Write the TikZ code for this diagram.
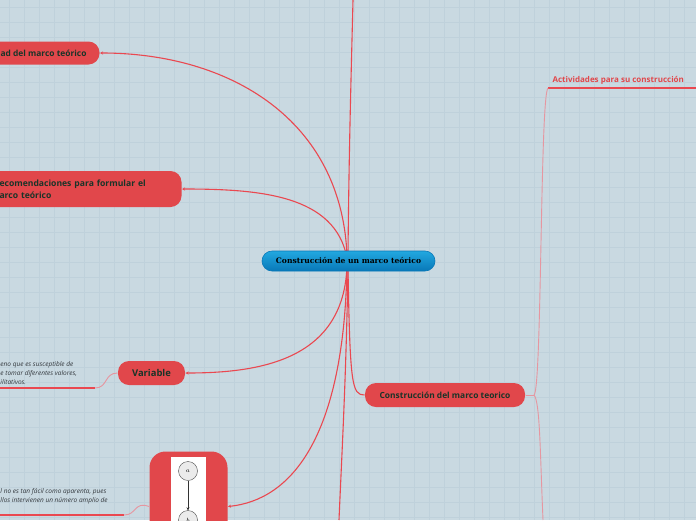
\documentclass[tikz,border=0pt]{standalone}
\usepackage{fontspec}
\setmainfont{Open Sans}
\newfontfamily\rootfont{DejaVu Serif}
\usetikzlibrary{arrows.meta}

\definecolor{paper}{RGB}{201,217,225}
\definecolor{gridline}{RGB}{191,209,219}
\definecolor{mapred}{RGB}{225,71,75}
\definecolor{linkred}{RGB}{234,72,80}
\definecolor{linkpink}{RGB}{230,150,160}
\definecolor{ink}{RGB}{26,52,40}
\definecolor{notegray}{RGB}{50,55,60}
\definecolor{bluetop}{RGB}{34,168,224}
\definecolor{bluebot}{RGB}{8,120,184}

\begin{document}
\begin{tikzpicture}[x=1pt, y=-1pt, line width=1pt,
  topic/.style={fill=mapred, rounded corners=11pt, text=ink, inner xsep=14pt, inner ysep=0pt,
    font=\fontsize{9}{12}\selectfont\bfseries},
  rootbox/.style={top color=bluetop, bottom color=bluebot, draw=bluebot, line width=0.6pt,
    rounded corners=10pt, minimum width=173pt, minimum height=20pt, inner sep=0pt,
    font=\rootfont\fontsize{7.6}{9}\selectfont\bfseries},
  note/.style={text=notegray, align=left, inner sep=0pt, font=\fontsize{6.5}{9}\selectfont\itshape},
  subtopic/.style={text=mapred, inner sep=1pt, font=\fontsize{8}{9}\selectfont\bfseries},
  dotnode/.style={circle, draw=black!70, fill=black!8, line width=0.4pt, minimum width=19pt,
    inner sep=0pt, font=\fontsize{6}{7}\selectfont},
  link/.style={draw=linkred, line width=1.1pt},
  twig/.style={draw=linkpink, line width=0.9pt},
  tip/.style={-{Stealth[length=3pt, width=3pt]}}]

% Page and its grid
\useasboundingbox (0,0) rectangle (696,520);
\clip (0,0) rectangle (696,520);
\fill[paper] (0,0) rectangle (696,520);
\foreach \x in {9,24,...,696} {
  \draw[gridline, line width=0.5pt] (\x,0) -- (\x,520);
}
\foreach \y in {7,22,...,520} {
  \draw[gridline, line width=0.5pt] (0,\y) -- (696,\y);
}

% Topics round the root
\node[topic, anchor=east, minimum height=23pt, inner xsep=13pt,
  font=\fontsize{8.4}{12}\selectfont\bfseries] (utilidad) at (100,53) {ad del marco teórico};
\node[topic, anchor=east, align=left, text width=168pt, minimum height=36pt,
  font=\fontsize{8.6}{12}\selectfont\bfseries] (recomendaciones) at (182,189)
  {ecomendaciones para formular el\\arco teórico};
\node[topic, minimum width=67pt, minimum height=24pt, inner xsep=0pt,
  font=\fontsize{9.4}{12}\selectfont\bfseries] (variable) at (151.5,373) {Variable};
\node[topic, anchor=north west, minimum width=78pt, minimum height=100pt, inner sep=0pt,
  rounded corners=16pt] (imagen) at (149,451) {};
\node[topic, minimum width=160pt, minimum height=24pt, inner xsep=0pt,
  font=\fontsize{8.4}{12}\selectfont\bfseries] (construccion) at (445,395) {Construcción del marco teorico};

% The picture inside the image topic
\fill[white] (171,457) rectangle (206,530);
\node[dotnode, minimum height=17pt] (a) at (188,471) {$a$};
\node[dotnode, minimum height=17pt] (b) at (188,520) {$b$};
\draw[tip, line width=0.5pt, black!80] (a) -- (b);

% Notes on the left, cut by the page edge
\node[note, anchor=north west] (variablenote) at (0,361)
  {eno que es susceptible de\\e tomar diferentes valores,\\ilitativos.};
\node[note, anchor=north west] (imagennote) at (0,488)
  {l no es tan fácil como aparenta, pues\\llos intervienen un número amplio de};
\coordinate (variableline) at (0,388);
\coordinate (imagenline) at (0,515);
\draw[link] (variableline) -- (95,388);
\draw[twig] (95,388) .. controls (108,388) and (104,373) .. (variable.west);
\draw[link] (imagenline) -- (124,515);
\draw[twig] (124,515) .. controls (137,515) and (134,501) .. ([yshift=-5pt]imagen.west);

% Branches of the root, drawn under it
\coordinate (top) at (353,0);
\coordinate (bottom) at (339,520);
\draw[link] (348,254) .. controls (349,150) and (351,80) .. (top);
\draw[link] (348,268) .. controls (346,380) and (342,450) .. (bottom);
\draw[link, tip] (347,256) .. controls (342,120) and (230,53) .. (utilidad.east);
\draw[link, tip] (347,258) .. controls (335,195) and (260,189) .. (recomendaciones.east);
\draw[link, tip] (347,264) .. controls (345,360) and (260,373) .. (variable.east);
\draw[link, tip] (347,266) .. controls (344,440) and (290,500) .. ([yshift=-5pt]imagen.east);
\draw[link] (348,268) .. controls (350,385) and (352,395) .. (construccion.west);

% Root
\node[rootbox] (root) at (348.5,261) {Construcción de un marco teórico};

% Right hand side
\node[subtopic, anchor=south west] (actividades) at (551,86) {Actividades para su construcción};
\coordinate (actividadesend) at (696,88);
\coordinate (lowend) at (543,520);
\draw[link] (548,88) -- (actividadesend);
\draw[twig] (construccion.east) -- (534,395);
\draw[twig] (534,395) .. controls (542,390) and (540,96) .. (548,88);
\draw[twig] (534,395) .. controls (540,402) and (540,450) .. (lowend);

\end{tikzpicture}
\end{document}
